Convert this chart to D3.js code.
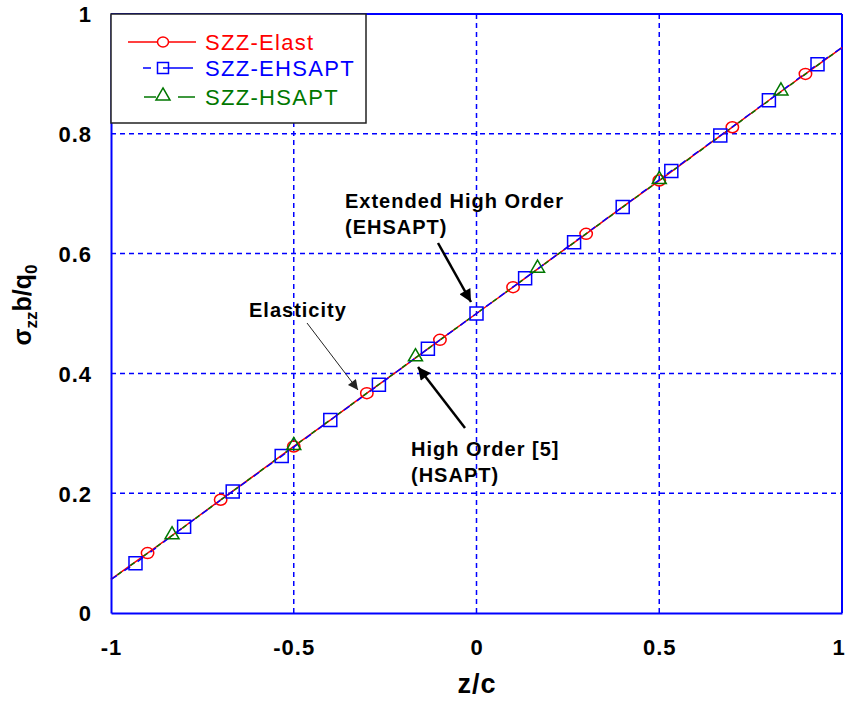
<!DOCTYPE html>
<html><head><meta charset="utf-8">
<script src="https://cdn.jsdelivr.net/npm/d3@7"></script>
<style>body{margin:0;background:#fff}svg{display:block}</style>
</head><body>
<script>
// ---- data ----
const elastLineZ = [-1,-0.9,-0.8,-0.7,-0.6,-0.5,-0.4,-0.3,-0.2,-0.1,0,0.1,0.2,0.3,0.4,0.5,0.6,0.7,0.8,0.9,1];
const elastLineV = [0.056,0.100,0.144,0.189,0.233,0.278,0.322,0.367,0.411,0.456,0.500,0.544,0.589,0.633,0.678,0.722,0.767,0.811,0.856,0.900,0.944];
const elastMarkZ = [-0.9,-0.7,-0.5,-0.3,-0.1,0.1,0.3,0.5,0.7,0.9];
const elastMarkV = [0.100,0.189,0.278,0.367,0.456,0.544,0.633,0.722,0.811,0.900];
const ehsaptZ = [-1,-0.933,-0.8,-0.667,-0.533,-0.4,-0.267,-0.133,0,0.133,0.267,0.4,0.533,0.667,0.8,0.933,1];
const ehsaptV = [0.056,0.083,0.144,0.203,0.262,0.322,0.381,0.441,0.500,0.559,0.619,0.678,0.738,0.797,0.856,0.916,0.944];
const ehsaptMarkZ = [-0.933,-0.8,-0.667,-0.533,-0.4,-0.267,-0.133,0,0.133,0.267,0.4,0.533,0.667,0.8,0.933];
const ehsaptMarkV = [0.083,0.144,0.203,0.262,0.322,0.381,0.441,0.500,0.559,0.619,0.678,0.738,0.797,0.856,0.916];
const hsaptZ = [-1,-0.833,-0.5,-0.167,0.167,0.5,0.833,1];
const hsaptV = [0.056,0.129,0.278,0.426,0.574,0.722,0.870,0.944];
const hsaptMarkZ = [-0.833,-0.5,-0.167,0.167,0.5,0.833];
const hsaptMarkV = [0.129,0.278,0.426,0.574,0.722,0.870];
const xTicks = [-1,-0.5,0,0.5,1];
const xTickLabels = ["-1","-0.5","0","0.5","1"];
const yTicks = [0,0.2,0.4,0.6,0.8,1];
const yTickLabels = ["0","0.2","0.4","0.6","0.8","1"];
const legendLabels = ["SZZ-Elast","SZZ-EHSAPT","SZZ-HSAPT"];

const W=846,H=702;
const L=111,R=842,T=14,B=613;
const RED="#ff0000",BLUE="#0000ff",GREEN="#007700";
const svg=d3.select("body").append("svg").attr("width",W).attr("height",H);
const x=d3.scaleLinear().domain([-1,1]).range([L,R]);
const y=d3.scaleLinear().domain([0,1]).range([B,T]);

// grid
const grid=svg.append("g").attr("stroke",BLUE).attr("stroke-width",1.5).attr("stroke-dasharray","5,4");
xTicks.slice(1,-1).forEach(t=>grid.append("line").attr("x1",x(t)).attr("x2",x(t)).attr("y1",T).attr("y2",B));
yTicks.slice(1,-1).forEach(t=>grid.append("line").attr("x1",L).attr("x2",R).attr("y1",y(t)).attr("y2",y(t)));

// axes (frame) via d3 axes
const fs="'Liberation Sans', Arial, sans-serif";
const xAxis=svg.append("g").attr("transform",`translate(0,${B})`)
  .call(d3.axisBottom(x).tickValues(xTicks).tickFormat((d,i)=>xTickLabels[i]).tickSize(0).tickPadding(0));
xAxis.select(".domain").attr("stroke",BLUE).attr("stroke-width",2);
xAxis.selectAll("text").attr("font-family",fs).attr("font-weight","bold").attr("font-size",22).attr("letter-spacing",(d,i)=>i===xTicks.length-1?0:1).attr("fill","#000").attr("dy",null).attr("y",42)
  .attr("x",(d,i)=>i===xTicks.length-1?-4:0);
const yAxis=svg.append("g").attr("transform",`translate(${L},0)`)
  .call(d3.axisLeft(y).tickValues(yTicks).tickFormat((d,i)=>yTickLabels[i]).tickSize(0).tickPadding(0));
yAxis.select(".domain").attr("stroke",BLUE).attr("stroke-width",2);
yAxis.selectAll("text").attr("font-family",fs).attr("font-weight","bold").attr("font-size",22).attr("letter-spacing",1).attr("fill","#000").attr("x",-19).attr("dy","0.36em");
svg.append("line").attr("x1",L).attr("x2",R).attr("y1",T).attr("y2",T).attr("stroke",BLUE).attr("stroke-width",2);
svg.append("line").attr("x1",R).attr("x2",R).attr("y1",T).attr("y2",B).attr("stroke",BLUE).attr("stroke-width",2);

// lines
const line=d3.line().x(d=>x(d[0])).y(d=>y(d[1]));
const plot=svg.append("g");
plot.append("path").datum(d3.zip(elastLineZ,elastLineV)).attr("d",line).attr("fill","none").attr("stroke",RED).attr("stroke-width",1.5);
plot.append("path").datum(d3.zip(ehsaptZ,ehsaptV)).attr("d",line).attr("fill","none").attr("stroke",BLUE).attr("stroke-width",1.5).attr("stroke-dasharray","7,9");
plot.append("path").datum(d3.zip(hsaptZ,hsaptV)).attr("d",line).attr("fill","none").attr("stroke",GREEN).attr("stroke-width",1.5).attr("stroke-dasharray","5,11").attr("stroke-dashoffset",8);

// markers
const sq=d3.symbol().type(d3.symbolSquare).size(169);
const tri=d3.symbol().type(d3.symbolTriangle).size(85);
d3.zip(elastMarkZ,elastMarkV).forEach(d=>plot.append("ellipse").attr("cx",x(d[0])).attr("cy",y(d[1])).attr("rx",6.2).attr("ry",5.5).attr("fill","none").attr("stroke",RED).attr("stroke-width",1.5));
d3.zip(ehsaptMarkZ,ehsaptMarkV).forEach(d=>plot.append("path").attr("d",sq).attr("transform",`translate(${x(d[0])},${y(d[1])})`).attr("fill","none").attr("stroke",BLUE).attr("stroke-width",1.5));
d3.zip(hsaptMarkZ,hsaptMarkV).forEach(d=>plot.append("path").attr("d",tri).attr("transform",`translate(${x(d[0])},${y(d[1])-1})`).attr("fill","none").attr("stroke",GREEN).attr("stroke-width",1.5));

// legend
const lg=svg.append("g");
lg.append("rect").attr("x",L).attr("y",T).attr("width",255).attr("height",109).attr("fill","#fff").attr("stroke","#222").attr("stroke-width",1.5);
const rowsY=[42,68,97], cols=[RED,BLUE,GREEN];
lg.append("line").attr("x1",128).attr("x2",196).attr("y1",rowsY[0]).attr("y2",rowsY[0]).attr("stroke",RED).attr("stroke-width",1.5);
lg.append("ellipse").attr("cx",163).attr("cy",rowsY[0]).attr("rx",5.5).attr("ry",5).attr("fill","#fff").attr("stroke",RED).attr("stroke-width",1.5);
lg.append("line").attr("x1",143).attr("x2",193).attr("y1",rowsY[1]).attr("y2",rowsY[1]).attr("stroke",BLUE).attr("stroke-width",1.5).attr("stroke-dasharray","8,12,30");
lg.append("path").attr("d",d3.symbol().type(d3.symbolSquare).size(121)).attr("transform",`translate(163,${rowsY[1]})`).attr("fill","none").attr("stroke",BLUE).attr("stroke-width",1.5);
lg.append("line").attr("x1",144).attr("x2",195).attr("y1",rowsY[2]).attr("y2",rowsY[2]).attr("stroke",GREEN).attr("stroke-width",1.5).attr("stroke-dasharray","12,8,0,14,17");
lg.append("path").attr("d",tri).attr("transform",`translate(163,${rowsY[2]-1})`).attr("fill","none").attr("stroke",GREEN).attr("stroke-width",1.5);
legendLabels.forEach((t,i)=>lg.append("text").attr("x",205).attr("y",rowsY[i]+8).attr("font-family",fs).attr("font-size",22).attr("letter-spacing",1.3).attr("fill",cols[i]).text(t));

// annotations
const defs=svg.append("defs");
defs.append("marker").attr("id","ah").attr("viewBox","0 0 10 10").attr("refX",10).attr("refY",5)
  .attr("markerWidth",7).attr("markerHeight",5).attr("markerUnits","strokeWidth").attr("orient","auto")
  .append("path").attr("d","M0,0L10,5L0,10z").attr("fill","#000");
defs.append("marker").attr("id","ah2").attr("viewBox","0 0 10 10").attr("refX",10).attr("refY",5)
  .attr("markerWidth",16).attr("markerHeight",10).attr("markerUnits","strokeWidth").attr("orient","auto")
  .append("path").attr("d","M0,0L10,5L0,10z").attr("fill","#222");
const ann=svg.append("g").attr("font-family",fs).attr("font-weight","bold").attr("font-size",20).attr("letter-spacing",1).attr("fill","#000");
ann.append("text").attr("x",345).attr("y",208).text("Extended High Order");
ann.append("text").attr("x",345).attr("y",234).text("(EHSAPT)");
ann.append("text").attr("x",249).attr("y",317).text("Elasticity");
ann.append("text").attr("x",411).attr("y",456).text("High Order [5]");
ann.append("text").attr("x",411).attr("y",482).text("(HSAPT)");
svg.append("line").attr("x1",438).attr("y1",243).attr("x2",471).attr("y2",302).attr("stroke","#000").attr("stroke-width",2.5).attr("marker-end","url(#ah)");
svg.append("line").attr("x1",307).attr("y1",323).attr("x2",358).attr("y2",390).attr("stroke","#222").attr("stroke-width",1).attr("marker-end","url(#ah2)");
svg.append("line").attr("x1",465).attr("y1",428).attr("x2",418).attr("y2",367).attr("stroke","#000").attr("stroke-width",2.5).attr("marker-end","url(#ah)");

// axis titles
svg.append("text").attr("x",477).attr("y",693).attr("text-anchor","middle").attr("font-family",fs).attr("font-weight","bold").attr("font-size",27).attr("letter-spacing",1).text("z/c");
const yt=svg.append("text").attr("transform","translate(31,305) rotate(-90)").attr("text-anchor","middle").attr("font-family",fs).attr("font-weight","bold").attr("font-size",25);
yt.append("tspan").text("σ");
yt.append("tspan").attr("font-size",17).attr("dy",6).text("zz");
yt.append("tspan").attr("dy",-6).text("b/q");
yt.append("tspan").attr("font-size",17).attr("dy",6).text("0");
</script>
</body></html>
